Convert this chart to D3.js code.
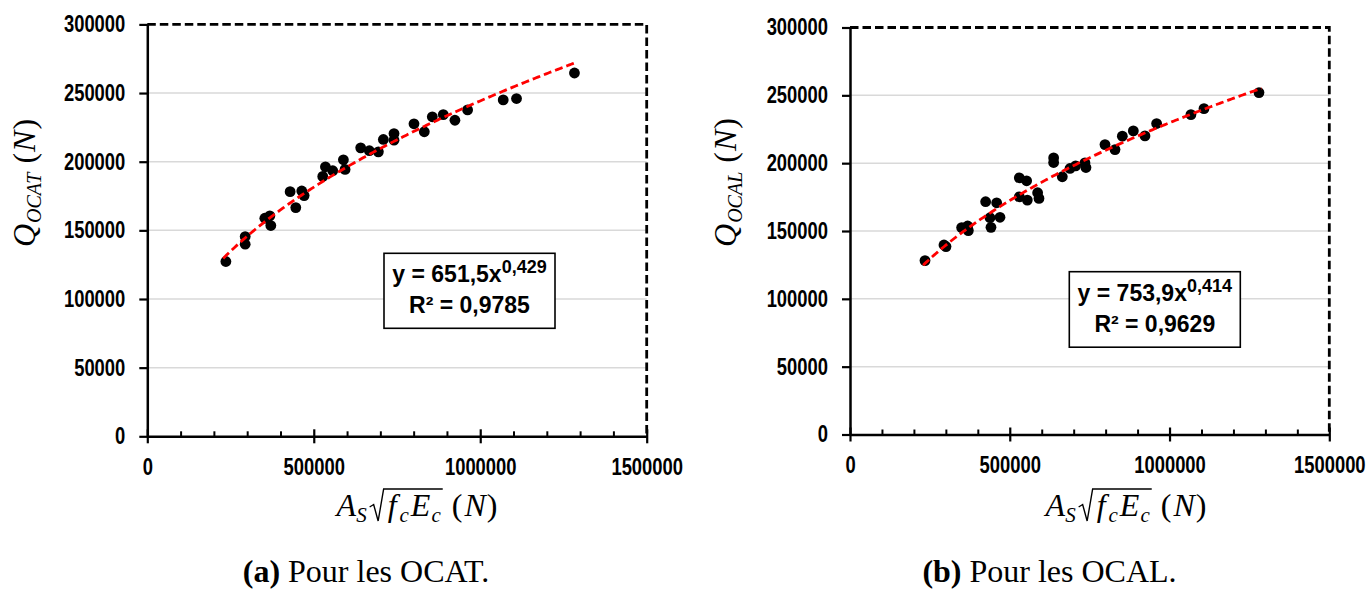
<!DOCTYPE html>
<html><head><meta charset="utf-8">
<script src="https://cdn.jsdelivr.net/npm/d3@7"></script>
<style>body{margin:0;background:#fff} svg{display:block}</style>
</head><body>
<svg id="chart" width="1370" height="600"></svg>
<script>
// ---------- data ----------
const xTickValues = [0, 500000, 1000000, 1500000];
const xMinorTicks = [100000, 200000, 300000, 400000, 600000, 700000, 800000, 900000, 1100000, 1200000, 1300000, 1400000];
const yTickValues = [0, 50000, 100000, 150000, 200000, 250000, 300000];
const gridValues = [50000, 100000, 150000, 200000, 250000];

const ocatX = [236000, 294000, 294000, 353000, 368000, 371000, 429000, 446000, 464000, 471000, 527000, 535000, 557000, 589000, 594000, 641000, 667000, 694000, 709000, 741000, 741000, 801000, 832000, 856000, 889000, 924000, 962000, 1069000, 1109000, 1283000];
const ocatY = [127300, 145500, 139900, 158800, 160500, 153500, 178200, 166600, 178700, 175300, 189300, 196300, 193400, 201400, 194400, 210100, 208000, 207200, 216200, 220500, 215700, 227600, 221800, 232700, 234300, 230200, 237700, 245000, 246000, 264600];

const ocalX = [234700, 294100, 300400, 349400, 368200, 370300, 424500, 441200, 438100, 459000, 469400, 529900, 552800, 529900, 554900, 587200, 591400, 637300, 637300, 664400, 688400, 706100, 735300, 738400, 798000, 829300, 852300, 886700, 923100, 959600, 1067000, 1107800, 1279900];
const ocalY = [128200, 139700, 138500, 152500, 153700, 150300, 171600, 152700, 159800, 170800, 160100, 189200, 187000, 175200, 172800, 178200, 174000, 203900, 200500, 190000, 196100, 198000, 200200, 196800, 213700, 210000, 219900, 223800, 220100, 229200, 235800, 240200, 252000];

// power-law fits as displayed on the chart: y = a * x^b
const ocatFit = {a: 651.5, b: 0.429, xmin: 228000, xmax: 1285000};
const ocalFit = {a: 753.9, b: 0.414, xmin: 229000, xmax: 1288000};
const ocatEq = ["y = 651,5x", "0,429", "R² = 0,9785"];
const ocalEq = ["y = 753,9x", "0,414", "R² = 0,9629"];
const ocatSub = "OCAT", ocalSub = "OCAL";
const captionA = ["(a)", " Pour les OCAT."];
const captionB = ["(b)", " Pour les OCAL."];

// ---------- drawing ----------
const svg = d3.select("#chart");
const TICK_FONT = "Liberation Sans, Arial, sans-serif";
const MATH_FONT = "Liberation Serif, Times New Roman, serif";

function mathLabel(g, pieces) {
  let cx = 0;
  let radStart = null;
  const rads = [];
  pieces.forEach(p => {
    if (p.gap) { cx += p.gap; return; }
    if (p.radStart) { radStart = cx; cx += 15; return; }
    if (p.radEnd) { cx += 2; rads.push([radStart, cx]); return; }
    const t = g.append("text")
      .attr("x", cx).attr("y", p.shift || 0)
      .attr("font-family", MATH_FONT)
      .attr("font-size", p.size || 30)
      .attr("font-style", p.upright ? "normal" : "italic")
      .attr("fill", "#000")
      .text(p.t);
    cx += t.node().getComputedTextLength() + (p.after || 0);
  });
  rads.forEach(([s, e]) => {
    g.append("path")
      .attr("d", `M${s},-9 L${s + 4},-11.5 L${s + 8.5},5 L${s + 14},-27 L${e},-27`)
      .attr("fill", "none").attr("stroke", "#000").attr("stroke-width", 1.4);
  });
  return cx;
}

function panel(cfg) {
  const g = svg.append("g");
  const x = d3.scaleLinear().domain([0, 1500000]).range([cfg.left, cfg.right]);
  const y = d3.scaleLinear().domain([0, 300000]).range([cfg.bottom, cfg.top]);

  // gridlines
  g.selectAll("line.grid").data(gridValues).join("line").attr("class", "grid")
    .attr("x1", cfg.left).attr("x2", cfg.right)
    .attr("y1", d => y(d)).attr("y2", d => y(d))
    .attr("stroke", "#d9d9d9").attr("stroke-width", 1.5);

  // dashed top/right border
  g.append("path")
    .attr("d", `M${cfg.left},${y(300000)}H${cfg.right}V${cfg.bottom}`)
    .attr("fill", "none").attr("stroke", "#000").attr("stroke-width", 2.8)
    .attr("stroke-dasharray", "8.5,4");

  // points
  const pts = cfg.xs.map((v, i) => [v, cfg.ys[i]]);
  g.selectAll("circle").data(pts).join("circle")
    .attr("cx", d => x(d[0])).attr("cy", d => y(d[1])).attr("r", 5.4).attr("fill", "#000");

  // trend line
  const f = cfg.fit;
  const xs = d3.range(f.xmin, f.xmax, 5000).concat([f.xmax]);
  g.append("path")
    .datum(xs)
    .attr("d", d3.line().x(d => x(d)).y(d => y(f.a * Math.pow(d, f.b))))
    .attr("fill", "none").attr("stroke", "#ff0000").attr("stroke-width", 2.8)
    .attr("stroke-dasharray", "8,4");

  // x axis
  const ax = g.append("g").attr("transform", `translate(0,${cfg.bottom})`)
    .call(d3.axisBottom(x).tickValues(xTickValues).tickSizeInner(7).tickSizeOuter(0)
      .tickPadding(15).tickFormat(d3.format("d")));
  ax.select(".domain").attr("stroke-width", 2.5);
  ax.selectAll(".tick line").attr("y1", -7).attr("y2", 7).attr("stroke-width", 2.2);
  ax.selectAll(".tick text").attr("font-family", TICK_FONT).attr("font-weight", "bold")
    .attr("font-size", 23).attr("fill", "#000")
    .attr("transform", "scale(0.8,1)");
  const mx = g.append("g").attr("transform", `translate(0,${cfg.bottom})`)
    .call(d3.axisBottom(x).tickValues(xMinorTicks).tickSizeInner(-5).tickSizeOuter(0).tickFormat(""));
  mx.select(".domain").remove();
  mx.selectAll(".tick line").attr("stroke-width", 2);

  // y axis
  const ay = g.append("g").attr("transform", `translate(${cfg.left},0)`)
    .call(d3.axisLeft(y).tickValues(yTickValues).tickSizeInner(8).tickSizeOuter(0)
      .tickPadding(14).tickFormat(d3.format("d")));
  ay.select(".domain").attr("stroke-width", 2.5);
  ay.selectAll(".tick line").attr("x2", -8).attr("x1", 1).attr("stroke-width", 2.2);
  ay.selectAll(".tick text").attr("font-family", TICK_FONT).attr("font-weight", "bold")
    .attr("font-size", 23).attr("fill", "#000")
    .attr("x", 0).attr("transform", "translate(-22,0) scale(0.8,1)");

  // equation box
  const b = cfg.box;
  g.append("rect").attr("x", b.x).attr("y", b.y).attr("width", b.w).attr("height", b.h)
    .attr("fill", "#fff").attr("stroke", "#000").attr("stroke-width", 1.6);
  const cxb = b.x + b.w / 2;
  const t1 = g.append("text").attr("x", cxb).attr("y", b.y + 29).attr("text-anchor", "middle")
    .attr("font-family", TICK_FONT).attr("font-weight", "bold").attr("font-size", 23);
  t1.append("tspan").text(cfg.eq[0]);
  t1.append("tspan").attr("dy", -9).attr("font-size", 18).text(cfg.eq[1]);
  g.append("text").attr("x", cxb).attr("y", b.y + 60).attr("text-anchor", "middle")
    .attr("font-family", TICK_FONT).attr("font-weight", "bold").attr("font-size", 23)
    .text(cfg.eq[2]);

  // y label (rotated)
  const yl = g.append("g");
  const wY = mathLabel(yl, [
    {t: "Q", size: 32, after: 1},
    {t: cfg.sub, size: 20, shift: 6, after: 9},
    {t: "(", size: 32, upright: true, after: 1},
    {t: "N", size: 32, after: 1},
    {t: ")", size: 32, upright: true}
  ]);
  yl.attr("transform", `translate(${cfg.ylab.x},${cfg.ylab.y}) rotate(-90) translate(${-wY / 2},0)`);

  // x label
  const xl = g.append("g");
  const wX = mathLabel(xl, [
    {t: "A", size: 32, after: 0},
    {t: "S", size: 21, shift: 6, after: 3},
    {radStart: true},
    {gap: 3},
    {t: "f", size: 32, after: 3},
    {t: "c", size: 21, shift: 6, after: 2},
    {t: "E", size: 32, after: 1},
    {t: "c", size: 21, shift: 6},
    {radEnd: true},
    {gap: 9},
    {t: "(", size: 32, upright: true, after: 2},
    {t: "N", size: 32, after: 1},
    {t: ")", size: 32, upright: true}
  ]);
  xl.attr("transform", `translate(${cfg.xlab.x - wX / 2},${cfg.xlab.y})`);

  // caption
  const cap = g.append("text").attr("x", cfg.cap.x).attr("y", cfg.cap.y).attr("text-anchor", "middle")
    .attr("font-family", MATH_FONT).attr("font-size", 32).attr("fill", "#000");
  cap.append("tspan").attr("font-weight", "bold").text(cfg.caption[0]);
  cap.append("tspan").text(cfg.caption[1]);
}

panel({
  left: 147.3, right: 646.7, top: 24.4, bottom: 436.3,
  xs: ocatX, ys: ocatY, fit: ocatFit, eq: ocatEq, sub: ocatSub, caption: captionA,
  box: {x: 384, y: 253.3, w: 171, h: 75},
  ylab: {x: 35, y: 183}, xlab: {x: 417, y: 516}, cap: {x: 366, y: 582}
});
panel({
  left: 850, right: 1329.3, top: 27.5, bottom: 434.5,
  xs: ocalX, ys: ocalY, fit: ocalFit, eq: ocalEq, sub: ocalSub, caption: captionB,
  box: {x: 1069.3, y: 271.7, w: 171, h: 75.5},
  ylab: {x: 736, y: 182.5}, xlab: {x: 1126, y: 516}, cap: {x: 1049.5, y: 582}
});
</script>
</body></html>
